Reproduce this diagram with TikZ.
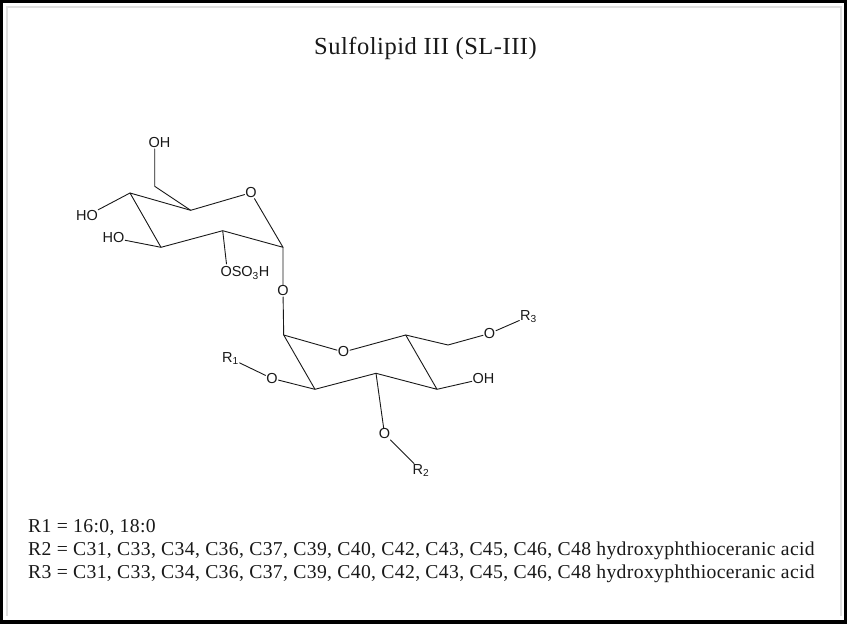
\documentclass[tikz,border=0pt]{standalone}
\usepackage{fontspec}
\setmainfont{Liberation Serif}
\newfontfamily\chemfont{Liberation Sans}
\newfontfamily\legendfont[LetterSpace=1.8]{Liberation Serif}
\newfontfamily\titlefont[LetterSpace=2.1]{Liberation Serif}
\tikzset{
  atom/.style={font=\chemfont\fontsize{14.5}{16}\selectfont,text=black!90,inner sep=0.5pt,outer sep=0.3pt},
  bond/.style={draw=black!90,line width=0.9pt,line join=round,line cap=round},
  legend/.style={font=\legendfont\fontsize{19.67}{22}\selectfont,anchor=base west,inner sep=0pt,text=black!90},
}
\begin{document}
\begin{tikzpicture}[x=1pt,y=-1pt]
\useasboundingbox (0,0) rectangle (847,624);
\fill[black] (0,0) rectangle (847,624);
\fill[white] (3,3) rectangle (843.5,620);
\draw[black!12,line width=2pt] (6,6.5) -- (841,6.5) -- (841,616);
\draw[black!12,line width=2pt] (6.5,6) -- (6.5,616);
\node[font=\titlefont\fontsize{24.5}{27}\selectfont,text=black!90] (title) at (425.5,48) {Sulfolipid III (SL-III)};
% upper ring
\coordinate (a4) at (130,193);
\coordinate (a5) at (190.7,210.3);
\coordinate (a1) at (283,247.3);
\coordinate (a2) at (222.7,230.7);
\coordinate (a3) at (161,247.3);
\coordinate (a6) at (154.7,186.3);
\node[atom] (aO) at (251,192.7) {O};
\node[atom] (aOH6) at (159.5,143) {OH};
\node[atom] (aHO4) at (87,215.7) {HO};
\node[atom] (aHO3) at (113.5,238) {HO};
\node[atom,anchor=west,inner sep=0pt,outer sep=0pt] (aS) at (220.5,273) {OSO\textsubscript{3}H};
\coordinate (aSO) at (226.5,264);
\node[atom] (link) at (283,291) {O};
% lower ring
\coordinate (b1) at (283.7,335);
\coordinate (b5) at (405.7,335);
\coordinate (b6) at (448,345);
\coordinate (b4) at (437,389.3);
\coordinate (b3) at (376,373.3);
\coordinate (b2) at (315,389.3);
\node[atom] (bO) at (343.5,352) {O};
\node[atom] (bO6) at (489.5,333.5) {O};
\node[atom] (R3) at (528.5,316.5) {R\textsubscript{3}};
\node[atom] (bOH) at (483.5,378.7) {OH};
\node[atom] (bO3) at (384.5,434) {O};
\node[atom] (R2) at (421,470.5) {R\textsubscript{2}};
\node[atom] (bO2) at (272,378.5) {O};
\node[atom] (R1) at (230.5,358.5) {R\textsubscript{1}};
% bonds
\draw[bond] (aO) -- (a5) -- (a4) -- (a3) -- (a2) -- (a1) -- (aO);
\draw[bond] (a5) -- (a6) -- (aOH6.south -| a6);
\draw[bond] (a4) -- (aHO4);
\draw[bond] (a3) -- (aHO3);
\draw[bond] (a2) -- (aSO);
\draw[bond] (a1) -- (link) -- (b1);
\draw[bond] (b1) -- (bO) -- (b5) -- (b4) -- (b3) -- (b2) -- (b1);
\draw[bond] (b5) -- (b6) -- (bO6) -- (R3);
\draw[bond] (b4) -- (bOH);
\draw[bond] (b3) -- (bO3) -- (R2);
\draw[bond] (b2) -- (bO2) -- (R1);
% legend
\node[legend] (l1) at (28,532) {R1 = 16:0, 18:0};
\node[legend] (l2) at (28,555) {R2 = C31, C33, C34, C36, C37, C39, C40, C42, C43, C45, C46, C48 hydroxyphthioceranic acid};
\node[legend] (l3) at (28,578) {R3 = C31, C33, C34, C36, C37, C39, C40, C42, C43, C45, C46, C48 hydroxyphthioceranic acid};
\end{tikzpicture}
\end{document}
